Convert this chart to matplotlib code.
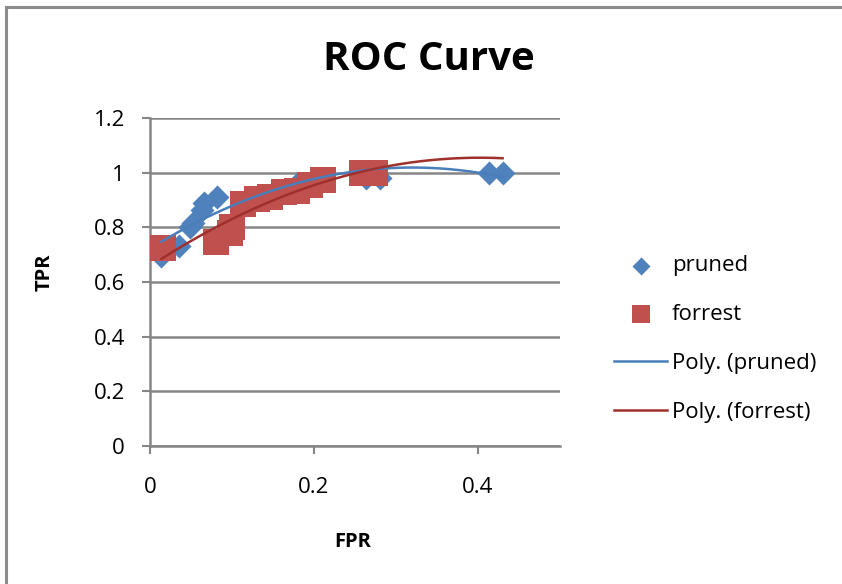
import numpy as np
import matplotlib
matplotlib.use("Agg")
import matplotlib.pyplot as plt
from matplotlib.lines import Line2D

# data
pruned_fpr = [0.014, 0.035, 0.049, 0.052, 0.063, 0.066, 0.082, 0.179, 0.264, 0.28, 0.413, 0.43]
pruned_tpr = [0.695, 0.73, 0.80, 0.816, 0.864, 0.89, 0.91, 0.96, 0.98, 0.98, 1.0, 1.0]

forrest_fpr = [0.016, 0.081, 0.098, 0.100, 0.114, 0.130, 0.146, 0.163, 0.179, 0.195, 0.211, 0.258, 0.274]
forrest_tpr = [0.723, 0.746, 0.78, 0.80, 0.887, 0.905, 0.91, 0.93, 0.933, 0.955, 0.973, 1.0, 1.0]

blue = "#4F81BD"
red = "#C0504D"
grid_gray = "#868686"

plt.rcParams["font.family"] = ["Open Sans", "DejaVu Sans"]

fig = plt.figure(figsize=(8.42, 5.84), dpi=100)
ax = fig.add_axes([150 / 842, 1 - 446 / 584, 410 / 842, 328 / 584])

# outer chart border (only top/left visible in the crop)
bx, by = 6 / 842, 1 - 7 / 584
fig.lines.append(Line2D([bx, bx], [-0.05, by], transform=fig.transFigure, color="#8C8C8C",
                        lw=2.2, solid_capstyle="projecting"))
fig.lines.append(Line2D([bx, 1.05], [by, by], transform=fig.transFigure, color="#8C8C8C",
                        lw=2.2, solid_capstyle="projecting"))

ax.scatter(pruned_fpr, pruned_tpr, marker="D", s=150, color=blue, label="pruned", zorder=3, linewidths=0)
ax.scatter(forrest_fpr, forrest_tpr, marker="s", s=330, color=red, label="forrest", zorder=3, linewidths=0)

# order-2 polynomial trend lines
x_all = pruned_fpr + forrest_fpr
xs = np.linspace(min(x_all), max(x_all), 200)
p1 = np.polyfit(pruned_fpr, pruned_tpr, 2)
p2 = np.polyfit(forrest_fpr, forrest_tpr, 2)
ax.plot(xs, np.polyval(p1, xs), color="#4A7EBB", lw=1.8, label="Poly. (pruned)", zorder=4)
ax.plot(xs, np.polyval(p2, xs), color="#A0302C", lw=1.8, label="Poly. (forrest)", zorder=4)

ax.set_xlim(0, 0.5)
ax.set_ylim(0, 1.2)
ax.set_xticks([0, 0.2, 0.4])
ax.set_xticklabels(["0", "0.2", "0.4"])
ax.set_yticks([0, 0.2, 0.4, 0.6, 0.8, 1.0, 1.2])
ax.set_yticklabels(["0", "0.2", "0.4", "0.6", "0.8", "1", "1.2"])
ax.grid(axis="y", color=grid_gray, lw=1.8)
ax.set_axisbelow(True)
for s in ["top", "right"]:
    ax.spines[s].set_visible(False)
for s in ["left", "bottom"]:
    ax.spines[s].set_color(grid_gray)
    ax.spines[s].set_linewidth(1.8)
ax.tick_params(axis="y", length=6, width=1.5, color=grid_gray, pad=12, labelsize=16)
ax.tick_params(axis="x", length=6, width=1.5, color=grid_gray, pad=16, labelsize=16)

fig.text(429 / 842, 1 - 60 / 584, "ROC Curve", ha="center", va="center", fontsize=29, fontweight="bold")
fig.text(45 / 842, 1 - 272 / 584, "TPR", ha="center", va="center", rotation=90, fontsize=14.5, fontweight="bold")
fig.text(353 / 842, 1 - 542 / 584, "FPR", ha="center", va="center", fontsize=14.5, fontweight="bold")

fig.legend(loc="center left", bbox_to_anchor=(603 / 842, 1 - 339 / 584), frameon=False, fontsize=16,
           handlelength=2.4, handletextpad=0.2, labelspacing=1.25, borderpad=0, scatterpoints=1,
           markerscale=0.75)

fig.savefig("out.png", dpi=100)
